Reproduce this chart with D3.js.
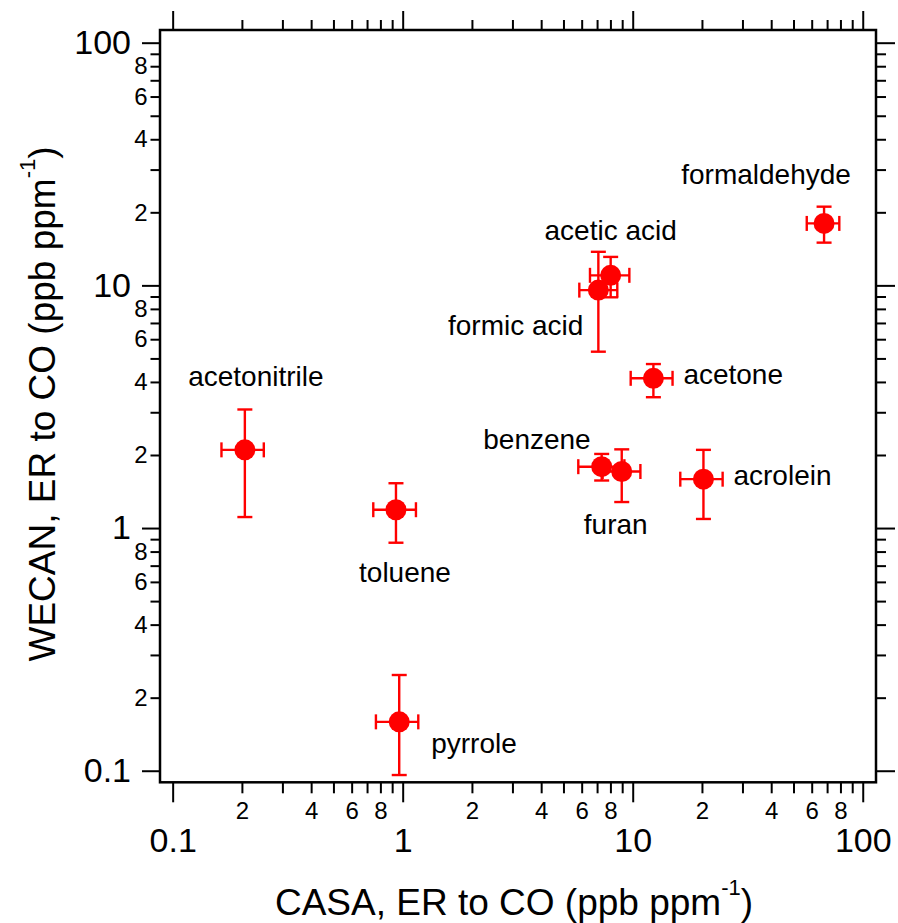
<!DOCTYPE html>
<html>
<head>
<meta charset="utf-8">
<script src="https://cdn.jsdelivr.net/npm/d3@7"></script>
<style>
  html, body { margin: 0; padding: 0; background: #fff; }
  svg { display: block; font-family: "Liberation Sans", Arial, sans-serif; }
</style>
</head>
<body>
<svg id="chart" width="898" height="923"></svg>
<script>
// ---- data ----
const compounds = ["acetonitrile", "toluene", "pyrrole", "formic acid", "acetic acid",
                   "formaldehyde", "acetone", "benzene", "furan", "acrolein"];
const casaER     = [0.206, 0.935, 0.966, 7.09, 8.02, 67.9, 12.3, 7.33, 8.96, 20.3];
const casaLow    = [0.163, 0.745, 0.765, 5.86, 6.52, 57.1, 9.80, 5.80, 7.40, 16.1];
const casaHigh   = [0.249, 1.142, 1.169, 8.57, 9.67, 79.1, 14.9, 9.20, 10.8, 24.6];
const wecanER    = [2.10, 1.19, 0.159, 9.56, 11.0, 18.0, 4.14, 1.79, 1.71, 1.59];
const wecanLow   = [1.11, 0.87, 0.096, 5.33, 8.93, 15.0, 3.46, 1.57, 1.28, 1.09];
const wecanHigh  = [3.08, 1.53, 0.248, 13.75, 13.1, 21.1, 4.74, 2.02, 2.11, 2.10];

const majorTicks = [0.1, 1, 10, 100];
const majorTickLabels = ["0.1", "1", "10", "100"];
const minorTicks = [0.2,0.3,0.4,0.5,0.6,0.7,0.8,0.9, 2,3,4,5,6,7,8,9, 20,30,40,50,60,70,80,90];
const minorLabelDigits = ["2", "4", "6", "8"];
const xDomain = [0.0881, 114.2];
const yDomain = [0.0896, 112.8];

const xTitle = "CASA, ER to CO (ppb ppm";
const yTitle = "WECAN, ER to CO (ppb ppm";

// label placement relative to each point: [dx, dy, anchor]
const labelPlacement = [
  [11, -64, "middle"], [9, 72, "middle"], [32, 31, "start"], [-15, 45, "end"],
  [0, -35, "middle"], [-58, -39, "middle"], [30, 6, "start"], [-11, -18, "end"],
  [-6, 62, "middle"], [30, 6, "start"]
];

// ---- layout ----
const L = 160, R = 876, T = 30, B = 782.3;
const svg = d3.select("#chart");
const x = d3.scaleLog().domain(xDomain).range([L, R]);
const y = d3.scaleLog().domain(yDomain).range([B, T]);

const minorLabelFmt = v => {
  const m = String(Math.round(v / Math.pow(10, Math.floor(Math.log10(v) + 1e-9))));
  return minorLabelDigits.includes(m) ? m : "";
};
const majorFmt = v => majorTickLabels[majorTicks.indexOf(v)];

function styleAxis(g, fs) {
  g.selectAll(".tick line").attr("stroke", "#000").attr("stroke-width", 2);
  g.selectAll(".tick text").attr("fill", "#000").style("font-size", fs + "px")
    .style("font-family", '"Liberation Sans", Arial, sans-serif');
  g.select(".domain").remove();
}

// bottom axis
svg.append("g").attr("transform", `translate(0,${B})`)
  .call(d3.axisBottom(x).tickValues(minorTicks).tickFormat(minorLabelFmt).tickSize(11).tickPadding(9))
  .call(g => styleAxis(g, 24));
svg.append("g").attr("transform", `translate(0,${B})`)
  .call(d3.axisBottom(x).tickValues(majorTicks).tickFormat(majorFmt).tickSize(20).tickPadding(26))
  .call(g => styleAxis(g, 34));
// top axis
svg.append("g").attr("transform", `translate(0,${T})`)
  .call(d3.axisTop(x).tickValues(minorTicks).tickFormat("").tickSize(10))
  .call(g => styleAxis(g, 22));
svg.append("g").attr("transform", `translate(0,${T})`)
  .call(d3.axisTop(x).tickValues(majorTicks).tickFormat("").tickSize(19))
  .call(g => styleAxis(g, 22));
// left axis
svg.append("g").attr("transform", `translate(${L},0)`)
  .call(d3.axisLeft(y).tickValues(minorTicks).tickFormat(minorLabelFmt).tickSize(9.5).tickPadding(3))
  .call(g => styleAxis(g, 24));
svg.append("g").attr("transform", `translate(${L},0)`)
  .call(d3.axisLeft(y).tickValues(majorTicks).tickFormat(majorFmt).tickSize(18).tickPadding(11))
  .call(g => styleAxis(g, 34));
// right axis
svg.append("g").attr("transform", `translate(${R},0)`)
  .call(d3.axisRight(y).tickValues(minorTicks).tickFormat("").tickSize(10))
  .call(g => styleAxis(g, 22));
svg.append("g").attr("transform", `translate(${R},0)`)
  .call(d3.axisRight(y).tickValues(majorTicks).tickFormat("").tickSize(19))
  .call(g => styleAxis(g, 22));

// frame
svg.append("rect").attr("x", L).attr("y", T).attr("width", R - L).attr("height", B - T)
  .attr("fill", "none").attr("stroke", "#000").attr("stroke-width", 2.5);

// ---- points with error bars ----
const red = "#ff0000";
const cap = 7.5;
const pts = compounds.map((n, i) => ({
  name: n, x: casaER[i], y: wecanER[i],
  xl: casaLow[i], xh: casaHigh[i], yl: wecanLow[i], yh: wecanHigh[i], lp: labelPlacement[i]
}));
const eg = svg.append("g").attr("stroke", red).attr("stroke-width", 2.4).attr("fill", "none");
pts.forEach(d => {
  const cx = x(d.x), cy = y(d.y);
  const g = eg.append("g");
  g.append("line").attr("x1", cx).attr("x2", cx).attr("y1", y(d.yl)).attr("y2", y(d.yh));
  g.append("line").attr("x1", cx - cap).attr("x2", cx + cap).attr("y1", y(d.yl)).attr("y2", y(d.yl));
  g.append("line").attr("x1", cx - cap).attr("x2", cx + cap).attr("y1", y(d.yh)).attr("y2", y(d.yh));
  g.append("line").attr("x1", x(d.xl)).attr("x2", x(d.xh)).attr("y1", cy).attr("y2", cy);
  g.append("line").attr("x1", x(d.xl)).attr("x2", x(d.xl)).attr("y1", cy - cap).attr("y2", cy + cap);
  g.append("line").attr("x1", x(d.xh)).attr("x2", x(d.xh)).attr("y1", cy - cap).attr("y2", cy + cap);
});
svg.append("g").selectAll("circle").data(pts).join("circle")
  .attr("cx", d => x(d.x)).attr("cy", d => y(d.y)).attr("r", 10.5).attr("fill", red);

// labels
svg.append("g").selectAll("text").data(pts).join("text")
  .attr("x", d => x(d.x) + d.lp[0]).attr("y", d => y(d.y) + d.lp[1])
  .attr("text-anchor", d => d.lp[2])
  .style("font-size", "28px").attr("fill", "#000")
  .text(d => d.name);

// axis titles
const xt = svg.append("text").attr("x", 514).attr("y", 915).attr("text-anchor", "middle")
  .style("font-size", "37px").attr("fill", "#000");
xt.append("tspan").text(xTitle);
xt.append("tspan").attr("dy", -20).style("font-size", "22px").text("-1");
xt.append("tspan").attr("dy", 20).text(")");

const yt = svg.append("text").attr("transform", "translate(55,404) rotate(-90)")
  .attr("text-anchor", "middle").style("font-size", "37px").attr("fill", "#000");
yt.append("tspan").text(yTitle);
yt.append("tspan").attr("dy", -20).style("font-size", "22px").text("-1");
yt.append("tspan").attr("dy", 20).text(")");
</script>
</body>
</html>
